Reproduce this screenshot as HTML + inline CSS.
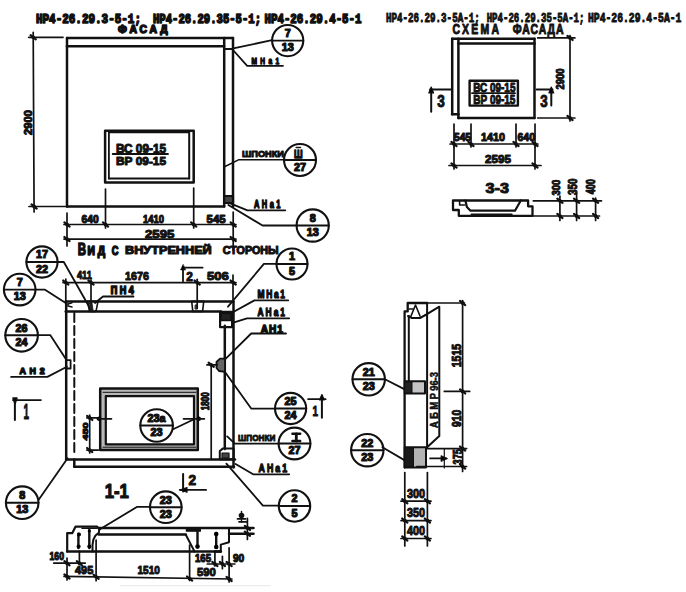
<!DOCTYPE html>
<html><head><meta charset="utf-8"><style>
html,body{margin:0;padding:0;background:#fff;}
svg{display:block;}
text{font-family:"Liberation Sans",sans-serif;font-weight:bold;fill:#111;stroke:#111;stroke-width:1.0px;}
text.m{font-family:"Liberation Mono",monospace;}
</style></head><body>
<svg width="686" height="592" viewBox="0 0 686 592">
<rect width="686" height="592" fill="#fff"/>
<g stroke="#111" fill="none" stroke-linecap="round" stroke-linejoin="round">
<text x="36" y="22.5" font-size="13.6" textLength="105" lengthAdjust="spacingAndGlyphs" style="stroke-width:1.6px" class="m">НР4-26.29.3-5-1;</text>
<text x="153" y="22.5" font-size="13.6" textLength="108" lengthAdjust="spacingAndGlyphs" style="stroke-width:1.6px" class="m">НР4-26.29.35-5-1;</text>
<text x="264.5" y="22.5" font-size="13.6" textLength="97.0" lengthAdjust="spacingAndGlyphs" style="stroke-width:1.6px" class="m">НР4-26.29.4-5-1</text>
<text transform="translate(118,32.8) scale(1.0,1)" x="0" y="0" font-size="10.3" textLength="49.5" lengthAdjust="spacing" style="stroke-width:1.5px">ФАСАД</text>
<line x1="67" y1="38" x2="233" y2="38" stroke-width="2.5"/>
<line x1="67" y1="46.3" x2="224" y2="46.3" stroke-width="2.5"/>
<line x1="67" y1="38" x2="67" y2="206.5" stroke-width="2.5"/>
<line x1="67" y1="206.5" x2="224" y2="206.5" stroke-width="2.5"/>
<line x1="224.2" y1="38" x2="224.2" y2="206.5" stroke-width="2.5"/>
<line x1="233" y1="38" x2="233" y2="206.5" stroke-width="2.5"/>
<line x1="224.2" y1="49" x2="233" y2="49" stroke-width="2.2"/>
<rect x="224.2" y="196" width="8.800000000000011" height="7" stroke-width="2.2" fill="#444"/>
<line x1="28.7" y1="37.3" x2="63" y2="37.3" stroke-width="1.7"/>
<line x1="29" y1="206.5" x2="67" y2="206.5" stroke-width="1.7"/>
<line x1="33.2" y1="32.3" x2="34.1" y2="212" stroke-width="1.7"/>
<line x1="30.6" y1="35.22" x2="35.800000000000004" y2="39.379999999999995" stroke-width="2.2"/>
<circle cx="33.2" cy="37.3" r="1.9" fill="#111" stroke="none"/>
<line x1="31.5" y1="204.42" x2="36.7" y2="208.58" stroke-width="2.2"/>
<circle cx="34.1" cy="206.5" r="1.9" fill="#111" stroke="none"/>
<text transform="translate(32,135) rotate(-90)" font-size="10.6" textLength="25" lengthAdjust="spacingAndGlyphs">2900</text>
<rect x="105.1" y="130.8" width="88.6" height="51.69999999999999" stroke-width="2.5" fill="none"/>
<line x1="108.9" y1="132" x2="108.9" y2="178.5" stroke-width="1.8"/>
<line x1="108.9" y1="132.5" x2="189.2" y2="132.5" stroke-width="1.4"/>
<line x1="189.2" y1="132" x2="189.2" y2="178.5" stroke-width="2.0"/>
<line x1="108.9" y1="178.5" x2="189.2" y2="178.5" stroke-width="2.0"/>
<line x1="105.5" y1="189" x2="105.5" y2="228" stroke-width="1.7"/>
<line x1="193.7" y1="188" x2="193.7" y2="228" stroke-width="1.7"/>
<text x="116" y="153" font-size="12.1" textLength="50" lengthAdjust="spacingAndGlyphs">ВС 09-15</text>
<line x1="112.7" y1="154" x2="168" y2="154" stroke-width="1.8"/>
<text x="116" y="164.5" font-size="11.4" textLength="50" lengthAdjust="spacingAndGlyphs">ВР 09-15</text>
<line x1="67" y1="213" x2="67" y2="246" stroke-width="1.7"/>
<line x1="233.2" y1="212" x2="233.2" y2="250" stroke-width="1.7"/>
<line x1="64" y1="224.5" x2="236" y2="224.5" stroke-width="1.7"/>
<line x1="64" y1="239.1" x2="236" y2="239.1" stroke-width="1.7"/>
<line x1="64.4" y1="222.42" x2="69.6" y2="226.58" stroke-width="2.2"/>
<circle cx="67" cy="224.5" r="1.9" fill="#111" stroke="none"/>
<line x1="102.9" y1="222.42" x2="108.1" y2="226.58" stroke-width="2.2"/>
<circle cx="105.5" cy="224.5" r="1.9" fill="#111" stroke="none"/>
<line x1="191.1" y1="222.42" x2="196.29999999999998" y2="226.58" stroke-width="2.2"/>
<circle cx="193.7" cy="224.5" r="1.9" fill="#111" stroke="none"/>
<line x1="230.6" y1="222.42" x2="235.79999999999998" y2="226.58" stroke-width="2.2"/>
<circle cx="233.2" cy="224.5" r="1.9" fill="#111" stroke="none"/>
<line x1="64.4" y1="237.01999999999998" x2="69.6" y2="241.18" stroke-width="2.2"/>
<circle cx="67" cy="239.1" r="1.9" fill="#111" stroke="none"/>
<line x1="230.6" y1="237.01999999999998" x2="235.79999999999998" y2="241.18" stroke-width="2.2"/>
<circle cx="233.2" cy="239.1" r="1.9" fill="#111" stroke="none"/>
<text x="81.5" y="223" font-size="10.0" textLength="17.099999999999994" lengthAdjust="spacingAndGlyphs">640</text>
<text x="143" y="223" font-size="10.0" textLength="21" lengthAdjust="spacingAndGlyphs">1410</text>
<text x="206.6" y="222.6" font-size="10.0" textLength="19.0" lengthAdjust="spacingAndGlyphs">545</text>
<text x="145" y="238.2" font-size="11.5" textLength="29.400000000000006" lengthAdjust="spacingAndGlyphs">2595</text>
<circle cx="287.7" cy="40.6" r="15.6" stroke-width="2.1" fill="none"/>
<line x1="272.09999999999997" y1="40.6" x2="303.3" y2="40.6" stroke-width="1.9"/>
<text x="284.7" y="37.0" font-size="10.8" textLength="6.0" lengthAdjust="spacingAndGlyphs" style="stroke-width:1.2px">7</text>
<text x="281.7" y="51.1" font-size="10.8" textLength="12.0" lengthAdjust="spacingAndGlyphs" style="stroke-width:1.2px">13</text>
<line x1="233.3" y1="48.3" x2="272" y2="40.2" stroke-width="1.8"/>
<polyline points="233,50 247.2,65.8 283,65.8" stroke-width="1.8" fill="none"/>
<text transform="translate(251.5,63.6) scale(0.75,1)" x="0" y="0" font-size="8.8" textLength="36.9" lengthAdjust="spacing" style="stroke-width:1.3px">МНа1</text>
<text x="242" y="157" font-size="9.1" textLength="42" lengthAdjust="spacingAndGlyphs">ШПОНКИ</text>
<polyline points="224,167 239,159.7 284,159.7" stroke-width="1.5" fill="none"/>
<circle cx="300" cy="160" r="16" stroke-width="2.1" fill="none"/>
<line x1="284" y1="160" x2="316" y2="160" stroke-width="1.9"/>
<text x="294.0" y="170.5" font-size="10.8" textLength="12.0" lengthAdjust="spacingAndGlyphs" style="stroke-width:1.2px">27</text>
<text x="294" y="157.7" font-size="11.7" textLength="8.600000000000023" lengthAdjust="spacingAndGlyphs" style="stroke-width:1.3px">Ш</text>
<line x1="296.2" y1="147.6" x2="300.5" y2="147.6" stroke-width="1.5"/>
<text transform="translate(254,208.4) scale(0.75,1)" x="0" y="0" font-size="10.0" textLength="35.3" lengthAdjust="spacing" style="stroke-width:1.3px">АНа1</text>
<polyline points="228.4,202.7 247.4,210.3 285.3,210.3" stroke-width="1.8" fill="none"/>
<polyline points="228.4,205 262.5,225.5 296.6,225.5" stroke-width="1.8" fill="none"/>
<circle cx="312.7" cy="225.5" r="16.1" stroke-width="2.1" fill="none"/>
<line x1="296.59999999999997" y1="225.5" x2="328.8" y2="225.5" stroke-width="1.9"/>
<text x="309.7" y="221.9" font-size="10.8" textLength="6.0" lengthAdjust="spacingAndGlyphs" style="stroke-width:1.2px">8</text>
<text x="306.7" y="236.0" font-size="10.8" textLength="12.0" lengthAdjust="spacingAndGlyphs" style="stroke-width:1.2px">13</text>
<text x="77.7" y="255.2" font-size="17.0" textLength="8.299999999999997" lengthAdjust="spacingAndGlyphs" style="stroke-width:1.5px">В</text>
<text transform="translate(87.5,255) scale(0.85,1)" x="0" y="0" font-size="12.1" textLength="20.8" lengthAdjust="spacing" style="stroke-width:1.6px">ИД</text>
<text x="111.8" y="255" font-size="12.1" textLength="6.700000000000003" lengthAdjust="spacingAndGlyphs" style="stroke-width:1.5px">С</text>
<text x="125" y="254.1" font-size="11.2" textLength="86.69999999999999" lengthAdjust="spacingAndGlyphs" style="stroke-width:1.1px">ВНУТРЕННЕЙ</text>
<text x="222.8" y="254.1" font-size="11.2" textLength="55.80000000000001" lengthAdjust="spacingAndGlyphs" style="stroke-width:1.1px">СТОРОНЫ</text>
<circle cx="42" cy="262" r="15.6" stroke-width="2.1" fill="none"/>
<line x1="26.4" y1="262" x2="57.6" y2="262" stroke-width="1.9"/>
<text x="36.0" y="258.4" font-size="10.8" textLength="12.0" lengthAdjust="spacingAndGlyphs" style="stroke-width:1.2px">17</text>
<text x="36.0" y="272.5" font-size="10.8" textLength="12.0" lengthAdjust="spacingAndGlyphs" style="stroke-width:1.2px">22</text>
<polyline points="57.5,262 63.8,262 91,310" stroke-width="1.8" fill="none"/>
<circle cx="19.7" cy="289.6" r="15.8" stroke-width="2.1" fill="none"/>
<line x1="3.8999999999999986" y1="289.6" x2="35.5" y2="289.6" stroke-width="1.9"/>
<text x="16.7" y="286.0" font-size="10.8" textLength="6.0" lengthAdjust="spacingAndGlyphs" style="stroke-width:1.2px">7</text>
<text x="13.7" y="300.1" font-size="10.8" textLength="12.0" lengthAdjust="spacingAndGlyphs" style="stroke-width:1.2px">13</text>
<polyline points="35.5,289.6 44.6,289.6 66.5,303.6" stroke-width="1.8" fill="none"/>
<line x1="63" y1="282.6" x2="236" y2="282.6" stroke-width="1.7"/>
<line x1="65.8" y1="279" x2="65.8" y2="301" stroke-width="1.7"/>
<line x1="91" y1="280" x2="91" y2="302" stroke-width="1.7"/>
<line x1="197.2" y1="279.3" x2="197.2" y2="308" stroke-width="1.7"/>
<line x1="233" y1="275" x2="233" y2="302" stroke-width="1.7"/>
<line x1="63.199999999999996" y1="280.52000000000004" x2="68.39999999999999" y2="284.68" stroke-width="2.2"/>
<circle cx="65.8" cy="282.6" r="1.9" fill="#111" stroke="none"/>
<line x1="88.4" y1="280.52000000000004" x2="93.6" y2="284.68" stroke-width="2.2"/>
<circle cx="91" cy="282.6" r="1.9" fill="#111" stroke="none"/>
<line x1="194.6" y1="280.52000000000004" x2="199.79999999999998" y2="284.68" stroke-width="2.2"/>
<circle cx="197.2" cy="282.6" r="1.9" fill="#111" stroke="none"/>
<line x1="230.6" y1="280.52000000000004" x2="235.79999999999998" y2="284.68" stroke-width="2.2"/>
<circle cx="233.2" cy="282.6" r="1.9" fill="#111" stroke="none"/>
<text x="77" y="279.1" font-size="11.5" textLength="14.799999999999997" lengthAdjust="spacingAndGlyphs">411</text>
<text x="125" y="280.1" font-size="11.5" textLength="24" lengthAdjust="spacingAndGlyphs">1676</text>
<text x="207" y="280.1" font-size="11.5" textLength="21.900000000000006" lengthAdjust="spacingAndGlyphs">506</text>
<line x1="183" y1="267" x2="183" y2="281.2" stroke-width="1.8"/>
<line x1="183" y1="267.7" x2="202.6" y2="267.7" stroke-width="1.8"/>
<polygon points="183,264.5 180.5,270 185.5,270" stroke-width="0.5" fill="#000"/>
<text x="186.2" y="280.8" font-size="12.6" textLength="6.600000000000023" lengthAdjust="spacingAndGlyphs">2</text>
<text transform="translate(110.8,294.4) scale(0.9,1)" x="0" y="0" font-size="10.0" textLength="25.4" lengthAdjust="spacing" style="stroke-width:1.6px">ПН4</text>
<polyline points="133.5,296.5 103,296.5 95,303" stroke-width="1.8" fill="none"/>
<line x1="65.7" y1="301.4" x2="233.2" y2="301.4" stroke-width="2.5"/>
<line x1="65.7" y1="311.4" x2="221" y2="311.4" stroke-width="2.5"/>
<line x1="66.2" y1="301.4" x2="66.2" y2="459.4" stroke-width="2.5"/>
<line x1="233.5" y1="301.5" x2="233.5" y2="467.5" stroke-width="2.5"/>
<line x1="224.8" y1="325.7" x2="224.8" y2="449" stroke-width="2.5"/>
<polyline points="72,302.8 68,304 68,306 72,307" stroke-width="1.5" fill="none"/>
<polygon points="87.5,301.4 98,301.4 96,311.4 89.5,311.4" stroke-width="1.6" fill="none"/>
<polygon points="89,303 92,303 93,310 90.5,310" stroke-width="0.8" fill="#222"/>
<polygon points="191.7,301.4 203.7,301.4 202.6,311.4 192.8,311.4" stroke-width="1.6" fill="none"/>
<rect x="195.5" y="305" width="2.0" height="4" stroke-width="1" fill="#222"/>
<line x1="74.3" y1="313" x2="74.3" y2="456" stroke-width="2.0" stroke-dasharray="9 4"/>
<line x1="66.2" y1="459.4" x2="235" y2="459.4" stroke-width="2.5"/>
<line x1="74.3" y1="466.8" x2="234" y2="466.8" stroke-width="2.5"/>
<line x1="74.3" y1="459.4" x2="74.3" y2="466.8" stroke-width="2.5"/>
<rect x="220.1" y="311.9" width="12.0" height="15.300000000000011" stroke-width="2.2" fill="none"/>
<rect x="221" y="313.5" width="10" height="7.0" stroke-width="1.5" fill="#222"/>
<circle cx="292" cy="264" r="15.5" stroke-width="2.1" fill="none"/>
<line x1="276.5" y1="264" x2="307.5" y2="264" stroke-width="1.9"/>
<text x="289.0" y="260.4" font-size="10.8" textLength="6.0" lengthAdjust="spacingAndGlyphs" style="stroke-width:1.2px">1</text>
<text x="289.0" y="274.5" font-size="10.8" textLength="6.0" lengthAdjust="spacingAndGlyphs" style="stroke-width:1.2px">5</text>
<polyline points="276.6,263.9 263.9,263.9 228,306.7" stroke-width="1.8" fill="none"/>
<text transform="translate(257.6,298.3) scale(0.75,1)" x="0" y="0" font-size="11.2" textLength="36.5" lengthAdjust="spacing" style="stroke-width:1.3px">МНа1</text>
<polyline points="288.2,300.4 254.4,300.4 233.3,312" stroke-width="1.8" fill="none"/>
<text transform="translate(257.6,316.2) scale(0.75,1)" x="0" y="0" font-size="11.2" textLength="36.5" lengthAdjust="spacing" style="stroke-width:1.3px">АНа1</text>
<polyline points="289.2,318.3 247,318.3 233.3,322.6" stroke-width="1.8" fill="none"/>
<text transform="translate(260.7,333.1) scale(0.9,1)" x="0" y="0" font-size="11.2" textLength="24.7" lengthAdjust="spacing" style="stroke-width:1.5px">АН1</text>
<polyline points="286,333.5 251.2,333.5 223.8,360.6" stroke-width="1.8" fill="none"/>
<polygon points="216.5,362 220,358.7 225,358.7 225,371.9 219,371 216.5,368" stroke-width="1.8" fill="#666"/>
<line x1="211.2" y1="364.8" x2="211.2" y2="459" stroke-width="1.7"/>
<line x1="208.6" y1="362.72" x2="213.79999999999998" y2="366.88" stroke-width="2.2"/>
<circle cx="211.2" cy="364.8" r="1.9" fill="#111" stroke="none"/>
<line x1="206.9" y1="364.8" x2="217.4" y2="364.8" stroke-width="1.7"/>
<text transform="translate(209.1,410.3) rotate(-90)" font-size="10.0" textLength="18.0" lengthAdjust="spacingAndGlyphs">1800</text>
<polyline points="225,371.9 251.2,408.6 275.3,408.6" stroke-width="1.8" fill="none"/>
<circle cx="290.6" cy="408.5" r="15.6" stroke-width="2.1" fill="none"/>
<line x1="275.0" y1="408.5" x2="306.20000000000005" y2="408.5" stroke-width="1.9"/>
<text x="284.6" y="404.9" font-size="10.8" textLength="12.0" lengthAdjust="spacingAndGlyphs" style="stroke-width:1.2px">25</text>
<text x="284.6" y="419.0" font-size="10.8" textLength="12.0" lengthAdjust="spacingAndGlyphs" style="stroke-width:1.2px">24</text>
<line x1="308.1" y1="399.2" x2="325.6" y2="399.2" stroke-width="1.8"/>
<line x1="321.9" y1="397" x2="321.9" y2="417.8" stroke-width="2.0"/>
<polygon points="321.9,394.5 319.5,400 324.3,400" stroke-width="1.2" fill="#000"/>
<text x="312.5" y="415.6" font-size="14.8" textLength="5.5" lengthAdjust="spacingAndGlyphs">1</text>
<text x="238.1" y="440.7" font-size="9.8" textLength="37.20000000000002" lengthAdjust="spacingAndGlyphs">ШПОНКИ</text>
<polyline points="227.2,436.4 234.8,443.6 279.7,443.6" stroke-width="1.8" fill="none"/>
<circle cx="294.5" cy="443.5" r="15.9" stroke-width="2.1" fill="none"/>
<line x1="278.6" y1="443.5" x2="310.4" y2="443.5" stroke-width="1.9"/>
<text x="288.5" y="454.0" font-size="10.8" textLength="12.0" lengthAdjust="spacingAndGlyphs" style="stroke-width:1.2px">27</text>
<line x1="292.4" y1="433.8" x2="300.2" y2="433.8" stroke-width="2.4"/>
<line x1="296.3" y1="433.8" x2="296.3" y2="441" stroke-width="2.8"/>
<line x1="292.4" y1="441" x2="300.2" y2="441" stroke-width="2.4"/>
<polygon points="219.8,459.3 219.8,451 223,448.4 233.7,448.4 233.7,459.3" stroke-width="2.0" fill="none"/>
<rect x="222" y="453" width="7" height="5" stroke-width="1.2" fill="#444"/>
<text transform="translate(258.6,471.7) scale(0.75,1)" x="0" y="0" font-size="11.7" textLength="37.9" lengthAdjust="spacing" style="stroke-width:1.3px">АНа1</text>
<polyline points="235.6,464 253.1,474.3 289.2,474.3" stroke-width="1.8" fill="none"/>
<polyline points="226.4,463.6 262.9,505.6 279,505.6" stroke-width="1.8" fill="none"/>
<circle cx="294.5" cy="506" r="15.7" stroke-width="2.1" fill="none"/>
<line x1="278.8" y1="506" x2="310.2" y2="506" stroke-width="1.9"/>
<text x="291.5" y="502.4" font-size="10.8" textLength="6.0" lengthAdjust="spacingAndGlyphs" style="stroke-width:1.2px">2</text>
<text x="291.5" y="516.5" font-size="10.8" textLength="6.0" lengthAdjust="spacingAndGlyphs" style="stroke-width:1.2px">5</text>
<line x1="183.1" y1="473.9" x2="183.1" y2="491.4" stroke-width="2.0"/>
<line x1="179.8" y1="489.9" x2="206.1" y2="489.9" stroke-width="1.8"/>
<polygon points="180.5,489.9 187,487.5 187,492.3" stroke-width="1.2" fill="#000"/>
<text x="188.6" y="484.8" font-size="14.8" textLength="7.599999999999994" lengthAdjust="spacingAndGlyphs">2</text>
<circle cx="21.6" cy="335.3" r="16.3" stroke-width="2.1" fill="none"/>
<line x1="5.300000000000001" y1="335.3" x2="37.900000000000006" y2="335.3" stroke-width="1.9"/>
<text x="15.600000000000001" y="331.7" font-size="10.8" textLength="12.0" lengthAdjust="spacingAndGlyphs" style="stroke-width:1.2px">26</text>
<text x="15.600000000000001" y="345.8" font-size="10.8" textLength="12.0" lengthAdjust="spacingAndGlyphs" style="stroke-width:1.2px">24</text>
<polyline points="37.9,335.1 50.2,335.1 66,359.2" stroke-width="1.8" fill="none"/>
<rect x="66" y="360.2" width="4.599999999999994" height="8.300000000000011" stroke-width="1.8" fill="none"/>
<text transform="translate(19.5,374.1) scale(0.9,1)" x="0" y="0" font-size="9.8" textLength="27.9" lengthAdjust="spacing" style="stroke-width:1.6px">АН2</text>
<polyline points="11.1,376.9 47.4,376.9 66.9,366.7" stroke-width="1.8" fill="none"/>
<line x1="13" y1="400.1" x2="40.9" y2="400.1" stroke-width="1.8"/>
<line x1="14.9" y1="400.1" x2="14.9" y2="420" stroke-width="2.0"/>
<polygon points="13,398 17,398 15,404" stroke-width="1.5" fill="#000"/>
<text x="23.5" y="419" font-size="21.2" textLength="5.5" lengthAdjust="spacingAndGlyphs">1</text>
<path d="M100.2,388.5H197.8V450.1H100.2Z M105.8,396.1V444.4H194V396.1Z" fill="#b8b8b8" fill-rule="evenodd" stroke="none"/>
<rect x="100.2" y="388.5" width="97.60000000000001" height="61.60000000000002" stroke-width="2.5" fill="none"/>
<rect x="105.8" y="396.1" width="88.2" height="48.299999999999955" stroke-width="2.2" fill="none"/>
<line x1="103" y1="392.3" x2="195.9" y2="392.3" stroke-width="1.0"/>
<line x1="103" y1="447.2" x2="195.9" y2="447.2" stroke-width="1.0"/>
<circle cx="156.6" cy="425.5" r="16.3" stroke-width="2.1" fill="none"/>
<line x1="140.29999999999998" y1="425.5" x2="172.9" y2="425.5" stroke-width="1.9"/>
<text x="147.6" y="421.9" font-size="10.8" textLength="18.0" lengthAdjust="spacingAndGlyphs" style="stroke-width:1.2px">23а</text>
<text x="150.6" y="436.0" font-size="10.8" textLength="12.0" lengthAdjust="spacingAndGlyphs" style="stroke-width:1.2px">23</text>
<line x1="173.1" y1="429.3" x2="193" y2="419.8" stroke-width="1.8"/>
<circle cx="99.2" cy="418.8" r="2.3" fill="#000" stroke="none"/>
<circle cx="198.7" cy="418.8" r="2.3" fill="#000" stroke="none"/>
<line x1="97.3" y1="418.8" x2="111.5" y2="418.8" stroke-width="1.7"/>
<line x1="183.5" y1="418.8" x2="204.4" y2="418.8" stroke-width="1.7"/>
<line x1="89.7" y1="415" x2="89.7" y2="453" stroke-width="1.7"/>
<line x1="86.9" y1="450.1" x2="98.3" y2="450.1" stroke-width="1.7"/>
<line x1="86.9" y1="417.9" x2="98.3" y2="417.9" stroke-width="1.7"/>
<line x1="87.10000000000001" y1="415.82" x2="92.3" y2="419.97999999999996" stroke-width="2.2"/>
<circle cx="89.7" cy="417.9" r="1.9" fill="#111" stroke="none"/>
<line x1="87.10000000000001" y1="448.02000000000004" x2="92.3" y2="452.18" stroke-width="2.2"/>
<circle cx="89.7" cy="450.1" r="1.9" fill="#111" stroke="none"/>
<text transform="translate(87.6,440.4) rotate(-90)" font-size="8.0" textLength="18.0" lengthAdjust="spacingAndGlyphs">450</text>
<line x1="67.6" y1="458.3" x2="38.5" y2="500" stroke-width="1.8"/>
<circle cx="22.2" cy="502.7" r="16.3" stroke-width="2.1" fill="none"/>
<line x1="5.899999999999999" y1="502.7" x2="38.5" y2="502.7" stroke-width="1.9"/>
<text x="19.2" y="499.09999999999997" font-size="10.8" textLength="6.0" lengthAdjust="spacingAndGlyphs" style="stroke-width:1.2px">8</text>
<text x="16.2" y="513.2" font-size="10.8" textLength="12.0" lengthAdjust="spacingAndGlyphs" style="stroke-width:1.2px">13</text>
<text x="104.7" y="498" font-size="19.7" textLength="24.200000000000003" lengthAdjust="spacingAndGlyphs" style="stroke-width:1.2px">1-1</text>
<circle cx="165.8" cy="507.2" r="15.8" stroke-width="2.1" fill="none"/>
<line x1="150.0" y1="507.2" x2="181.60000000000002" y2="507.2" stroke-width="1.9"/>
<text x="159.8" y="503.59999999999997" font-size="10.8" textLength="12.0" lengthAdjust="spacingAndGlyphs" style="stroke-width:1.2px">23</text>
<text x="159.8" y="517.7" font-size="10.8" textLength="12.0" lengthAdjust="spacingAndGlyphs" style="stroke-width:1.2px">23</text>
<polyline points="99.5,529.4 137.2,506.8 150,506.8" stroke-width="1.8" fill="none"/>
<polyline points="67.2,551.6 67.2,533.2 72.2,533.2 75.6,526.6 97.2,526.6 99.3,529.4" stroke-width="2.2" fill="none"/>
<line x1="99.3" y1="527.9" x2="253.5" y2="527.9" stroke-width="2.5"/>
<line x1="98.8" y1="534.4" x2="185.8" y2="534.4" stroke-width="2.5"/>
<line x1="229" y1="533.8" x2="253.5" y2="533.8" stroke-width="2.5"/>
<line x1="67.2" y1="551.6" x2="220.8" y2="551.6" stroke-width="2.5"/>
<polyline points="99.3,529.4 98.8,532.9 95.5,535.5 93.4,539.5 92.5,545 92.5,551.6" stroke-width="2.0" fill="none"/>
<line x1="82" y1="528.3" x2="97" y2="528.3" stroke-width="1.4"/>
<line x1="78.4" y1="533.8" x2="78.4" y2="548" stroke-width="2.4"/>
<circle cx="79" cy="534.5" r="2.0" fill="#000" stroke="none"/>
<circle cx="78.6" cy="546.5" r="2.0" fill="#000" stroke="none"/>
<line x1="89.3" y1="530" x2="89.3" y2="548" stroke-width="2.4"/>
<circle cx="89.3" cy="546.5" r="2.0" fill="#000" stroke="none"/>
<circle cx="89.3" cy="531" r="1.6" fill="#000" stroke="none"/>
<line x1="185.8" y1="534.7" x2="194.6" y2="551.6" stroke-width="2.0"/>
<line x1="197.5" y1="531" x2="197.5" y2="547.6" stroke-width="2.4"/>
<circle cx="197.5" cy="546.5" r="2.3" fill="#000" stroke="none"/>
<rect x="186.4" y="527.9" width="14.0" height="3.300000000000068" stroke-width="1.2" fill="#111"/>
<line x1="216.2" y1="533" x2="216.2" y2="547.6" stroke-width="2.4"/>
<circle cx="216.2" cy="534" r="2.3" fill="#000" stroke="none"/>
<circle cx="216.2" cy="547" r="2.3" fill="#000" stroke="none"/>
<polyline points="229,527.9 229,542.3 220.8,544.6 220.8,551.6" stroke-width="2.0" fill="none"/>
<line x1="215" y1="551.6" x2="220.8" y2="551.6" stroke-width="2.5"/>
<circle cx="241.5" cy="515.5" r="2.8" fill="#111" stroke="none"/>
<line x1="237.5" y1="518.8" x2="245.5" y2="518.8" stroke-width="1.8"/>
<line x1="239" y1="521.8" x2="246.5" y2="521.8" stroke-width="1.8"/>
<line x1="241.5" y1="511.5" x2="241.5" y2="522" stroke-width="1.4"/>
<line x1="247.4" y1="518.4" x2="247.4" y2="539.4" stroke-width="1.7"/>
<line x1="244.8" y1="525.8199999999999" x2="250.0" y2="529.98" stroke-width="2.2"/>
<circle cx="247.4" cy="527.9" r="1.9" fill="#111" stroke="none"/>
<line x1="244.8" y1="531.7199999999999" x2="250.0" y2="535.88" stroke-width="2.2"/>
<circle cx="247.4" cy="533.8" r="1.9" fill="#111" stroke="none"/>
<text x="49.5" y="560.3" font-size="10.0" textLength="14.5" lengthAdjust="spacingAndGlyphs">160</text>
<line x1="53.8" y1="563.2" x2="85.2" y2="563.2" stroke-width="1.7"/>
<line x1="67" y1="558" x2="67" y2="580" stroke-width="1.7"/>
<line x1="79.4" y1="551" x2="79.4" y2="563.5" stroke-width="1.7"/>
<line x1="96.1" y1="540" x2="96.1" y2="580.7" stroke-width="1.7"/>
<line x1="64.4" y1="561.12" x2="69.6" y2="565.2800000000001" stroke-width="2.2"/>
<circle cx="67" cy="563.2" r="1.9" fill="#111" stroke="none"/>
<line x1="76.80000000000001" y1="561.12" x2="82.0" y2="565.2800000000001" stroke-width="2.2"/>
<circle cx="79.4" cy="563.2" r="1.9" fill="#111" stroke="none"/>
<line x1="64.4" y1="574.42" x2="69.6" y2="578.58" stroke-width="2.2"/>
<circle cx="67" cy="576.5" r="1.9" fill="#111" stroke="none"/>
<line x1="93.5" y1="574.7199999999999" x2="98.69999999999999" y2="578.88" stroke-width="2.2"/>
<circle cx="96.1" cy="576.8" r="1.9" fill="#111" stroke="none"/>
<text x="75" y="574.2" font-size="11.1" textLength="18.200000000000003" lengthAdjust="spacingAndGlyphs">495</text>
<line x1="64" y1="576.3" x2="231.9" y2="579" stroke-width="1.7"/>
<text x="137.5" y="574.4" font-size="11.5" textLength="22.400000000000006" lengthAdjust="spacingAndGlyphs">1510</text>
<text x="195" y="562" font-size="10.0" textLength="16" lengthAdjust="spacingAndGlyphs">165</text>
<text x="232.9" y="562" font-size="10.0" textLength="11.299999999999983" lengthAdjust="spacingAndGlyphs">90</text>
<line x1="207.3" y1="564" x2="234.8" y2="564" stroke-width="1.7"/>
<line x1="214.9" y1="551" x2="214.9" y2="566" stroke-width="1.7"/>
<line x1="222.4" y1="556.4" x2="222.4" y2="568.7" stroke-width="1.7"/>
<line x1="229.1" y1="547.8" x2="229.1" y2="582" stroke-width="1.7"/>
<line x1="189.6" y1="545" x2="189.6" y2="580.5" stroke-width="1.7"/>
<line x1="212.3" y1="561.92" x2="217.5" y2="566.08" stroke-width="2.2"/>
<circle cx="214.9" cy="564" r="1.9" fill="#111" stroke="none"/>
<line x1="219.8" y1="561.92" x2="225.0" y2="566.08" stroke-width="2.2"/>
<circle cx="222.4" cy="564" r="1.9" fill="#111" stroke="none"/>
<line x1="226.5" y1="561.92" x2="231.7" y2="566.08" stroke-width="2.2"/>
<circle cx="229.1" cy="564" r="1.9" fill="#111" stroke="none"/>
<line x1="187.0" y1="576.52" x2="192.2" y2="580.6800000000001" stroke-width="2.2"/>
<circle cx="189.6" cy="578.6" r="1.9" fill="#111" stroke="none"/>
<line x1="226.5" y1="576.92" x2="231.7" y2="581.08" stroke-width="2.2"/>
<circle cx="229.1" cy="579" r="1.9" fill="#111" stroke="none"/>
<text x="196.9" y="576.3" font-size="11.5" textLength="18.900000000000006" lengthAdjust="spacingAndGlyphs">590</text>
<line x1="120" y1="585.7" x2="270" y2="585.7" stroke="#ececec" stroke-width="1.2"/>
<g>
<text x="386" y="22" font-size="12.1" textLength="93.69999999999999" lengthAdjust="spacingAndGlyphs" style="stroke-width:0.9px" class="m">НР4-26.29.3-5А-1;</text>
<text x="486.7" y="22" font-size="12.1" textLength="97.80000000000001" lengthAdjust="spacingAndGlyphs" style="stroke-width:0.9px" class="m">НР4-26.29.35-5А-1;</text>
<text x="588" y="22" font-size="12.1" textLength="93.39999999999998" lengthAdjust="spacingAndGlyphs" style="stroke-width:0.9px" class="m">НР4-26.29.4-5А-1</text>
<text transform="translate(452.6,34.2) scale(0.72,1)" x="0" y="0" font-size="14.5" textLength="64.4" lengthAdjust="spacing" style="stroke-width:1.0px">СХЕМА</text>
<text transform="translate(512.7,34.2) scale(0.72,1)" x="0" y="0" font-size="14.5" textLength="70.6" lengthAdjust="spacing" style="stroke-width:1.0px">ФАСАДА</text>
<line x1="452.2" y1="38.7" x2="534.5" y2="38.7" stroke-width="2.5"/>
<line x1="458.4" y1="43.6" x2="534.5" y2="43.6" stroke-width="2.5"/>
<line x1="452.2" y1="38.7" x2="452.2" y2="114.3" stroke-width="2.5"/>
<line x1="458.4" y1="38.7" x2="458.4" y2="118" stroke-width="2.5"/>
<line x1="452.2" y1="114.3" x2="458.4" y2="114.3" stroke-width="2.5"/>
<line x1="458.4" y1="118" x2="534.5" y2="118" stroke-width="2.5"/>
<line x1="534.5" y1="38.7" x2="534.5" y2="118" stroke-width="2.5"/>
<rect x="469.6" y="80.8" width="48.299999999999955" height="24.799999999999997" stroke-width="2.4" fill="none"/>
<text x="473.3" y="92" font-size="13.2" textLength="42.099999999999966" lengthAdjust="spacingAndGlyphs">ВС 09-15</text>
<line x1="472" y1="93.2" x2="515" y2="93.2" stroke-width="1.8"/>
<text x="473.3" y="104.4" font-size="13.2" textLength="42.099999999999966" lengthAdjust="spacingAndGlyphs">ВР 09-15</text>
<line x1="430" y1="89.5" x2="451" y2="89.5" stroke-width="1.8"/>
<line x1="431.2" y1="90" x2="431.2" y2="111.8" stroke-width="2.0"/>
<polygon points="431.2,87 428.8,93 433.6,93" stroke-width="1.2" fill="#000"/>
<text x="437.3" y="106.8" font-size="16.8" textLength="7.5" lengthAdjust="spacingAndGlyphs">3</text>
<line x1="536.5" y1="89.5" x2="552.6" y2="89.5" stroke-width="1.8"/>
<line x1="551.3" y1="90" x2="551.3" y2="105.6" stroke-width="2.0"/>
<polygon points="551.3,87 548.9,93 553.7,93" stroke-width="1.2" fill="#000"/>
<text x="540.2" y="106.8" font-size="16.8" textLength="7.399999999999977" lengthAdjust="spacingAndGlyphs">3</text>
<line x1="537.7" y1="37.9" x2="574.9" y2="37.9" stroke-width="1.7"/>
<line x1="537.7" y1="118" x2="574.9" y2="118" stroke-width="1.7"/>
<line x1="570" y1="35.5" x2="570" y2="121" stroke-width="1.7"/>
<line x1="567.4" y1="35.82" x2="572.6" y2="39.98" stroke-width="2.2"/>
<circle cx="570" cy="37.9" r="1.9" fill="#111" stroke="none"/>
<line x1="567.4" y1="115.92" x2="572.6" y2="120.08" stroke-width="2.2"/>
<circle cx="570" cy="118" r="1.9" fill="#111" stroke="none"/>
<text transform="translate(563.7,89.5) rotate(-90)" font-size="11.2" textLength="21.099999999999994" lengthAdjust="spacingAndGlyphs">2900</text>
<line x1="454" y1="124" x2="454" y2="147" stroke-width="1.7"/>
<line x1="471" y1="124" x2="471" y2="147" stroke-width="1.7"/>
<line x1="516" y1="124" x2="516" y2="147" stroke-width="1.7"/>
<line x1="535" y1="124" x2="535" y2="147" stroke-width="1.7"/>
<line x1="454" y1="147" x2="454" y2="169" stroke-width="1.7"/>
<line x1="535" y1="147" x2="535" y2="169" stroke-width="1.7"/>
<line x1="450" y1="144" x2="538" y2="144" stroke-width="1.7"/>
<line x1="451.4" y1="141.92" x2="456.6" y2="146.08" stroke-width="2.2"/>
<circle cx="454" cy="144" r="1.9" fill="#111" stroke="none"/>
<line x1="468.4" y1="141.92" x2="473.6" y2="146.08" stroke-width="2.2"/>
<circle cx="471" cy="144" r="1.9" fill="#111" stroke="none"/>
<line x1="513.4" y1="141.92" x2="518.6" y2="146.08" stroke-width="2.2"/>
<circle cx="516" cy="144" r="1.9" fill="#111" stroke="none"/>
<line x1="532.4" y1="141.92" x2="537.6" y2="146.08" stroke-width="2.2"/>
<circle cx="535" cy="144" r="1.9" fill="#111" stroke="none"/>
<text x="454" y="141" font-size="10.6" textLength="17" lengthAdjust="spacingAndGlyphs">545</text>
<text x="481" y="141" font-size="10.6" textLength="24" lengthAdjust="spacingAndGlyphs">1410</text>
<text x="517.5" y="141" font-size="10.6" textLength="17.5" lengthAdjust="spacingAndGlyphs">640</text>
<line x1="449" y1="165.5" x2="541" y2="165.5" stroke-width="1.7"/>
<line x1="451.4" y1="163.42" x2="456.6" y2="167.58" stroke-width="2.2"/>
<circle cx="454" cy="165.5" r="1.9" fill="#111" stroke="none"/>
<line x1="532.4" y1="163.42" x2="537.6" y2="167.58" stroke-width="2.2"/>
<circle cx="535" cy="165.5" r="1.9" fill="#111" stroke="none"/>
<text x="485" y="162.5" font-size="11.4" textLength="26" lengthAdjust="spacingAndGlyphs">2595</text>
<text x="485.5" y="192.5" font-size="15.2" textLength="23.5" lengthAdjust="spacingAndGlyphs">3-3</text>
<polyline points="528.1,200.5 453,200.5 453,210 458.8,210 458.8,215.8 532.5,215.8 532.5,206.3 528.1,206.3 528.1,200.5" stroke-width="2.3" fill="none"/>
<polyline points="465.4,200.5 466.9,207 470.5,210.7 515,210.7 520.8,200.5" stroke-width="2.2" fill="none"/>
<polyline points="459.6,200.5 459.6,205 464.7,205" stroke-width="1.6" fill="none"/>
<line x1="471.2" y1="214.2" x2="512" y2="214.2" stroke-width="1.4"/>
<line x1="533.3" y1="200.8" x2="601.5" y2="200.8" stroke-width="1.7"/>
<line x1="533" y1="216" x2="599.5" y2="216" stroke-width="1.7"/>
<line x1="559.9" y1="196.2" x2="559.9" y2="220.5" stroke-width="1.7"/>
<line x1="576.6" y1="193.6" x2="576.6" y2="220.5" stroke-width="1.7"/>
<line x1="595.6" y1="198.2" x2="595.6" y2="220.5" stroke-width="1.7"/>
<line x1="557.3" y1="198.72" x2="562.5" y2="202.88000000000002" stroke-width="2.2"/>
<circle cx="559.9" cy="200.8" r="1.9" fill="#111" stroke="none"/>
<line x1="557.3" y1="213.92" x2="562.5" y2="218.08" stroke-width="2.2"/>
<circle cx="559.9" cy="216" r="1.9" fill="#111" stroke="none"/>
<line x1="574.0" y1="198.72" x2="579.2" y2="202.88000000000002" stroke-width="2.2"/>
<circle cx="576.6" cy="200.8" r="1.9" fill="#111" stroke="none"/>
<line x1="574.0" y1="213.92" x2="579.2" y2="218.08" stroke-width="2.2"/>
<circle cx="576.6" cy="216" r="1.9" fill="#111" stroke="none"/>
<line x1="593.0" y1="198.72" x2="598.2" y2="202.88000000000002" stroke-width="2.2"/>
<circle cx="595.6" cy="200.8" r="1.9" fill="#111" stroke="none"/>
<line x1="593.0" y1="213.92" x2="598.2" y2="218.08" stroke-width="2.2"/>
<circle cx="595.6" cy="216" r="1.9" fill="#111" stroke="none"/>
<text transform="translate(559.5,195.6) rotate(-90)" font-size="11.8" textLength="15.799999999999983" lengthAdjust="spacingAndGlyphs">300</text>
<text transform="translate(577.2,195) rotate(-90)" font-size="12.9" textLength="16.5" lengthAdjust="spacingAndGlyphs">350</text>
<text transform="translate(594.5,194.3) rotate(-90)" font-size="13.2" textLength="15.100000000000023" lengthAdjust="spacingAndGlyphs">400</text>
</g>
<line x1="407.7" y1="303" x2="464.4" y2="303" stroke-width="1.7"/>
<line x1="462.6" y1="300.5" x2="462.6" y2="471.5" stroke-width="1.7"/>
<line x1="460.0" y1="300.92" x2="465.20000000000005" y2="305.08" stroke-width="2.2"/>
<circle cx="462.6" cy="303" r="1.9" fill="#111" stroke="none"/>
<line x1="460.0" y1="389.32" x2="465.20000000000005" y2="393.47999999999996" stroke-width="2.2"/>
<circle cx="462.6" cy="391.4" r="1.9" fill="#111" stroke="none"/>
<line x1="460.0" y1="446.52000000000004" x2="465.20000000000005" y2="450.68" stroke-width="2.2"/>
<circle cx="462.6" cy="448.6" r="1.9" fill="#111" stroke="none"/>
<line x1="460.0" y1="464.42" x2="465.20000000000005" y2="468.58" stroke-width="2.2"/>
<circle cx="462.6" cy="466.5" r="1.9" fill="#111" stroke="none"/>
<polyline points="404.6,467.5 404.6,311.4 407.7,311.4 407.7,303 427.2,303" stroke-width="2.3" fill="none"/>
<line x1="408.8" y1="316" x2="408.8" y2="381.3" stroke-width="2.0"/>
<line x1="427.1" y1="303" x2="427.1" y2="447.5" stroke-width="2.0"/>
<polyline points="425.3,315.1 439.3,306.7 439.3,436 426,448.2" stroke-width="2.0" fill="none"/>
<polyline points="408,316 412,318 420,318 425.3,315.1" stroke-width="2.0" fill="none"/>
<polyline points="411,316 415.5,305 420,316" stroke-width="1.6" fill="none"/>
<line x1="409" y1="309" x2="413" y2="309" stroke-width="1.4"/>
<text transform="translate(460.7,367.2) rotate(-90)" font-size="12.7" textLength="23.30000000000001" lengthAdjust="spacingAndGlyphs">1515</text>
<circle cx="368.7" cy="379.3" r="16.2" stroke-width="2.1" fill="none"/>
<line x1="352.5" y1="379.3" x2="384.9" y2="379.3" stroke-width="1.9"/>
<text x="362.7" y="375.7" font-size="10.8" textLength="12.0" lengthAdjust="spacingAndGlyphs" style="stroke-width:1.2px">21</text>
<text x="362.7" y="389.8" font-size="10.8" textLength="12.0" lengthAdjust="spacingAndGlyphs" style="stroke-width:1.2px">23</text>
<line x1="384.9" y1="379.3" x2="404.8" y2="389.4" stroke-width="1.8"/>
<rect x="404.8" y="381.3" width="20.19999999999999" height="12.199999999999989" stroke-width="2.0" fill="#c4c4c4"/>
<rect x="405" y="382" width="7" height="11" stroke-width="1" fill="#222"/>
<text transform="translate(437.6,428) rotate(-90)" font-size="10.6" textLength="55.80000000000001" lengthAdjust="spacingAndGlyphs" style="stroke-width:0.6px">А Б М Р  96-3</text>
<line x1="444.3" y1="391.4" x2="469.7" y2="391.4" stroke-width="1.7"/>
<text transform="translate(460.5,426.9) rotate(-90)" font-size="12.3" textLength="17.19999999999999" lengthAdjust="spacingAndGlyphs">910</text>
<circle cx="367.3" cy="450.2" r="16.2" stroke-width="2.1" fill="none"/>
<line x1="351.1" y1="450.2" x2="383.5" y2="450.2" stroke-width="1.9"/>
<text x="361.3" y="446.59999999999997" font-size="10.8" textLength="12.0" lengthAdjust="spacingAndGlyphs" style="stroke-width:1.2px">22</text>
<text x="361.3" y="460.7" font-size="10.8" textLength="12.0" lengthAdjust="spacingAndGlyphs" style="stroke-width:1.2px">23</text>
<line x1="382.4" y1="447.2" x2="404.8" y2="460.4" stroke-width="1.8"/>
<rect x="404.8" y="447.2" width="21.19999999999999" height="20.30000000000001" stroke-width="2.0" fill="#b4b4b4"/>
<rect x="405" y="448" width="8.5" height="19" stroke-width="1" fill="#1a1a1a"/>
<line x1="426" y1="448.6" x2="466.6" y2="448.6" stroke-width="1.7"/>
<line x1="430.1" y1="458.4" x2="446" y2="458.4" stroke-width="1.8"/>
<polygon points="447.3,458.4 441,455.6 441,461.2" stroke-width="0.8" fill="#000"/>
<line x1="444.3" y1="448.6" x2="444.3" y2="468" stroke-width="1.2"/>
<text transform="translate(461.5,464.4) rotate(-90)" font-size="12.3" textLength="15.199999999999989" lengthAdjust="spacingAndGlyphs">375</text>
<line x1="416.9" y1="466.5" x2="466.6" y2="466.5" stroke-width="1.7"/>
<line x1="404.8" y1="472.6" x2="404.8" y2="546" stroke-width="1.7"/>
<line x1="427.4" y1="472.6" x2="427.4" y2="546" stroke-width="1.7"/>
<line x1="401" y1="501.2" x2="431" y2="501.2" stroke-width="1.7"/>
<line x1="402.2" y1="499.12" x2="407.40000000000003" y2="503.28" stroke-width="2.2"/>
<circle cx="404.8" cy="501.2" r="1.9" fill="#111" stroke="none"/>
<line x1="424.79999999999995" y1="499.12" x2="430.0" y2="503.28" stroke-width="2.2"/>
<circle cx="427.4" cy="501.2" r="1.9" fill="#111" stroke="none"/>
<line x1="401" y1="520.6" x2="431" y2="520.6" stroke-width="1.7"/>
<line x1="402.2" y1="518.52" x2="407.40000000000003" y2="522.6800000000001" stroke-width="2.2"/>
<circle cx="404.8" cy="520.6" r="1.9" fill="#111" stroke="none"/>
<line x1="424.79999999999995" y1="518.52" x2="430.0" y2="522.6800000000001" stroke-width="2.2"/>
<circle cx="427.4" cy="520.6" r="1.9" fill="#111" stroke="none"/>
<line x1="401" y1="538.5" x2="431" y2="538.5" stroke-width="1.7"/>
<line x1="402.2" y1="536.42" x2="407.40000000000003" y2="540.58" stroke-width="2.2"/>
<circle cx="404.8" cy="538.5" r="1.9" fill="#111" stroke="none"/>
<line x1="424.79999999999995" y1="536.42" x2="430.0" y2="540.58" stroke-width="2.2"/>
<circle cx="427.4" cy="538.5" r="1.9" fill="#111" stroke="none"/>
<text x="407" y="498" font-size="12.1" textLength="18" lengthAdjust="spacingAndGlyphs">300</text>
<text x="407" y="516.5" font-size="12.9" textLength="18" lengthAdjust="spacingAndGlyphs">350</text>
<text x="407" y="535" font-size="12.6" textLength="18" lengthAdjust="spacingAndGlyphs">400</text>
</g>
</svg>
</body></html>
